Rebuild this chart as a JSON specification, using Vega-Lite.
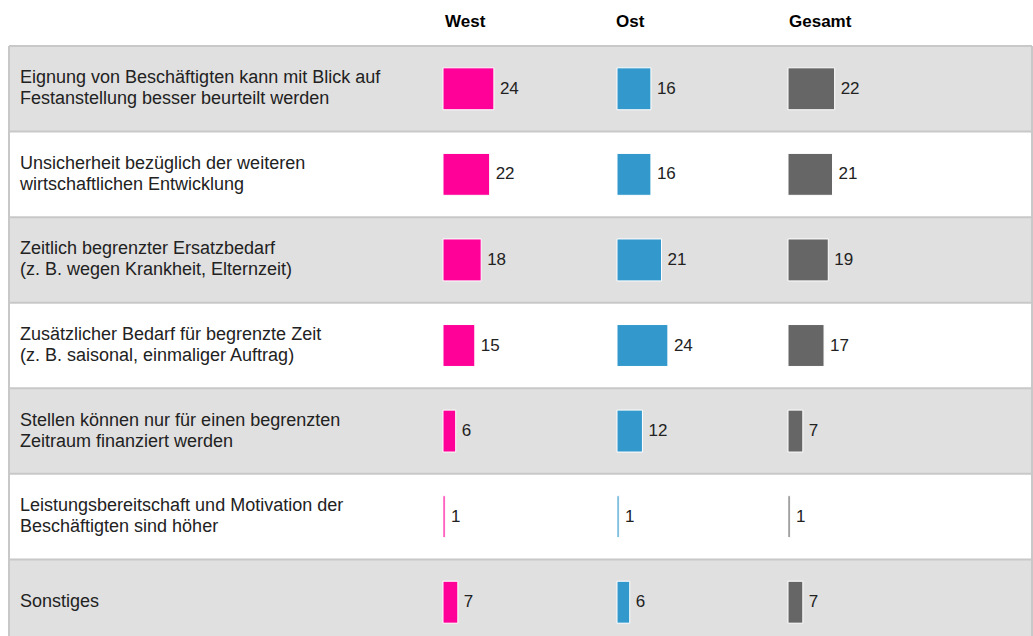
{
  "$schema": "https://vega.github.io/schema/vega-lite/v6.json",
  "padding": {"left": 8, "top": 13, "right": 0, "bottom": 0},
  "background": "#ffffff",
  "bounds": "flush",
  "spacing": 0,
  "config": {
    "view": {"stroke": null},
    "title": {"font": "Liberation Sans", "fontSize": 17, "fontWeight": "bold", "anchor": "start", "color": "#000000", "offset": 14, "dx": 3},
    "text": {"font": "Liberation Sans", "fontSize": 17, "color": "#222222"}
  },
  "datasets": {
    "rows": [
      {"nr": 1, "label": "Eignung von Beschäftigten kann mit Blick auf|Festanstellung besser beurteilt werden", "West": 24, "Ost": 16, "Gesamt": 22},
      {"nr": 2, "label": "Unsicherheit bezüglich der weiteren|wirtschaftlichen Entwicklung", "West": 22, "Ost": 16, "Gesamt": 21},
      {"nr": 3, "label": "Zeitlich begrenzter Ersatzbedarf|(z. B. wegen Krankheit, Elternzeit)", "West": 18, "Ost": 21, "Gesamt": 19},
      {"nr": 4, "label": "Zusätzlicher Bedarf für begrenzte Zeit|(z. B. saisonal, einmaliger Auftrag)", "West": 15, "Ost": 24, "Gesamt": 17},
      {"nr": 5, "label": "Stellen können nur für einen begrenzten|Zeitraum finanziert werden", "West": 6, "Ost": 12, "Gesamt": 7},
      {"nr": 6, "label": "Leistungsbereitschaft und Motivation der|Beschäftigten sind höher", "West": 1, "Ost": 1, "Gesamt": 1},
      {"nr": 7, "label": "Sonstiges", "West": 7, "Ost": 6, "Gesamt": 7}
    ]
  },
  "hconcat": [
    {
      "width": 434,
      "height": 591,
      "data": {"name": "rows"},
      "encoding": {
        "y": {"field": "label", "type": "nominal", "sort": null, "axis": null, "scale": {"paddingInner": 0, "paddingOuter": 0, "range": [0, 599]}}
      },
      "layer": [
        {"mark": {"type": "rect", "clip": true}, "encoding": {"fill": {"condition": {"test": "datum.nr % 2 == 1", "value": "#e0e0e0"}, "value": "#ffffff"}}},
        {"mark": {"type": "rule", "color": "#c8c8c8", "strokeWidth": 2}, "encoding": {"y": {"field": "label", "type": "nominal", "sort": null, "bandPosition": 0}}},
        {"mark": {"type": "rule", "color": "#c8c8c8", "strokeWidth": 2}, "encoding": {"y": null, "x": {"datum": 0, "type": "quantitative", "scale": {"domain": [0, 1]}, "axis": null}}},
        {"mark": {"type": "text", "align": "left", "baseline": "middle", "dx": 11, "dy": {"expr": "indexof(datum.label, '|') >= 0 ? -10.5 : 0"}, "lineBreak": "|", "lineHeight": 21, "fontSize": 18},
         "encoding": {"x": {"datum": 0, "type": "quantitative", "scale": {"domain": [0, 1]}, "axis": null}, "text": {"field": "label"}}}
      ]
    },
    {
      "width": 174,
      "height": 591,
      "title": {"text": "West", "dx": 3},
      "data": {"name": "rows"},
      "encoding": {
        "y": {"field": "label", "type": "nominal", "sort": null, "axis": null, "scale": {"paddingInner": 0, "paddingOuter": 0, "range": [0, 599]}}
      },
      "layer": [
        {"mark": {"type": "rect", "clip": true}, "encoding": {"fill": {"condition": {"test": "datum.nr % 2 == 1", "value": "#e0e0e0"}, "value": "#ffffff"}}},
        {"mark": {"type": "rule", "color": "#c8c8c8", "strokeWidth": 2}, "encoding": {"y": {"field": "label", "type": "nominal", "sort": null, "bandPosition": 0}}},
        {"mark": {"type": "bar", "height": {"band": 0.49}, "fill": "#ff0099", "stroke": "#ffffff", "strokeWidth": 1},
         "encoding": {"x": {"field": "West", "type": "quantitative", "scale": {"domain": [0, 82.08], "nice": false}, "axis": null}}},
        {"mark": {"type": "text", "align": "left", "baseline": "middle", "dx": 6},
         "encoding": {"x": {"field": "West", "type": "quantitative"}, "text": {"field": "West"}}}
      ]
    },
    {
      "width": 171,
      "height": 591,
      "title": {"text": "Ost", "dx": 0},
      "data": {"name": "rows"},
      "encoding": {
        "y": {"field": "label", "type": "nominal", "sort": null, "axis": null, "scale": {"paddingInner": 0, "paddingOuter": 0, "range": [0, 599]}}
      },
      "layer": [
        {"mark": {"type": "rect", "clip": true}, "encoding": {"fill": {"condition": {"test": "datum.nr % 2 == 1", "value": "#e0e0e0"}, "value": "#ffffff"}}},
        {"mark": {"type": "rule", "color": "#c8c8c8", "strokeWidth": 2}, "encoding": {"y": {"field": "label", "type": "nominal", "sort": null, "bandPosition": 0}}},
        {"mark": {"type": "bar", "height": {"band": 0.49}, "fill": "#3399cc", "stroke": "#ffffff", "strokeWidth": 1},
         "encoding": {"x": {"field": "Ost", "type": "quantitative", "scale": {"domain": [0, 80.66], "nice": false}, "axis": null}}},
        {"mark": {"type": "text", "align": "left", "baseline": "middle", "dx": 6},
         "encoding": {"x": {"field": "Ost", "type": "quantitative"}, "text": {"field": "Ost"}}}
      ]
    },
    {
      "width": 244,
      "height": 591,
      "title": {"text": "Gesamt", "dx": 2},
      "data": {"name": "rows"},
      "encoding": {
        "y": {"field": "label", "type": "nominal", "sort": null, "axis": null, "scale": {"paddingInner": 0, "paddingOuter": 0, "range": [0, 599]}}
      },
      "layer": [
        {"mark": {"type": "rect", "clip": true}, "encoding": {"fill": {"condition": {"test": "datum.nr % 2 == 1", "value": "#e0e0e0"}, "value": "#ffffff"}}},
        {"mark": {"type": "rule", "color": "#c8c8c8", "strokeWidth": 2}, "encoding": {"y": {"field": "label", "type": "nominal", "sort": null, "bandPosition": 0}}},
        {"mark": {"type": "bar", "height": {"band": 0.49}, "fill": "#666666", "stroke": "#ffffff", "strokeWidth": 1},
         "encoding": {"x": {"field": "Gesamt", "type": "quantitative", "scale": {"domain": [0, 115.09], "nice": false}, "axis": null}}},
        {"mark": {"type": "text", "align": "left", "baseline": "middle", "dx": 6},
         "encoding": {"x": {"field": "Gesamt", "type": "quantitative"}, "text": {"field": "Gesamt"}}},
        {"mark": {"type": "rule", "color": "#c8c8c8", "strokeWidth": 2}, "encoding": {"y": null, "x": {"datum": 115.09, "type": "quantitative"}}}
      ]
    }
  ]
}
